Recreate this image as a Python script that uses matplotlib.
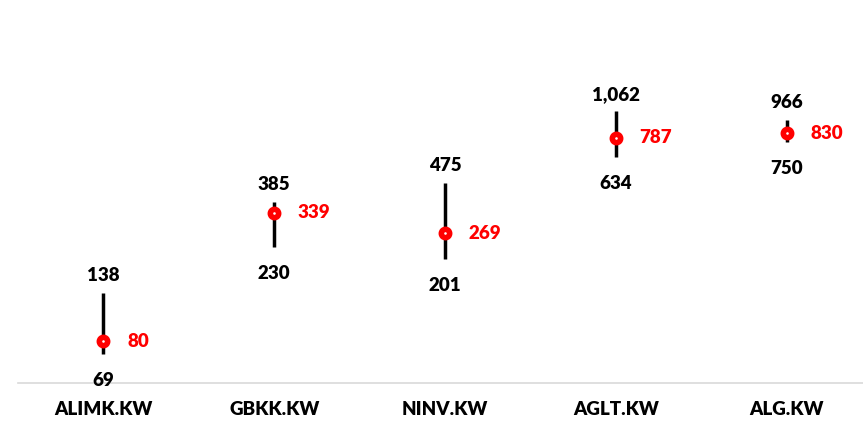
import matplotlib
matplotlib.use("Agg")
import matplotlib.pyplot as plt

# data
tickers = ["ALIMK.KW", "GBKK.KW", "NINV.KW", "AGLT.KW", "ALG.KW"]
high = [138, 385, 475, 1062, 966]
low = [69, 230, 201, 634, 750]
current = [80, 339, 269, 787, 830]

plt.rcParams["font.family"] = ["Lato", "DejaVu Sans"]
W = "heavy"

fig = plt.figure(figsize=(8.63, 4.25), dpi=100)
ax = fig.add_axes([18 / 863, 42 / 425, 854 / 863, 328 / 425])

x = list(range(len(tickers)))
ax.set_yscale("log")
ax.set_ylim(50, 2000)
ax.set_xlim(-0.5, len(tickers) - 0.5)

# high-low lines
ax.vlines(x, low, high, color="black", linewidth=2.5, zorder=2)

# current price markers
ax.plot(x, current, linestyle="none", marker="o", markersize=6,
        markerfacecolor="white", markeredgecolor="red",
        markeredgewidth=4, zorder=3)

for xi, h, l, c in zip(x, high, low, current):
    ax.annotate(f"{h:,}", (xi, h), xytext=(0, 6), textcoords="offset points",
                ha="center", va="bottom", fontsize=13.5, fontweight=W,
                color="black")
    ax.annotate(f"{l:,}", (xi, l), xytext=(0, -13), textcoords="offset points",
                ha="center", va="top", fontsize=13.5, fontweight=W,
                color="black")
    ax.annotate(f"{c:,}", (xi, c), xytext=(17, 0), textcoords="offset points",
                ha="left", va="center", fontsize=13.5, fontweight=W,
                color="red")

ax.set_xticks(x)
ax.set_xticklabels(tickers, fontsize=13.5, fontweight=W)
ax.tick_params(axis="x", length=0, pad=13)
ax.set_yticks([])
ax.yaxis.set_minor_locator(matplotlib.ticker.NullLocator())

for name, sp in ax.spines.items():
    sp.set_visible(name == "bottom")
ax.spines["bottom"].set_color("#d9d9d9")
ax.spines["bottom"].set_linewidth(1.2)

fig.savefig("out.png", dpi=100, facecolor="white")
